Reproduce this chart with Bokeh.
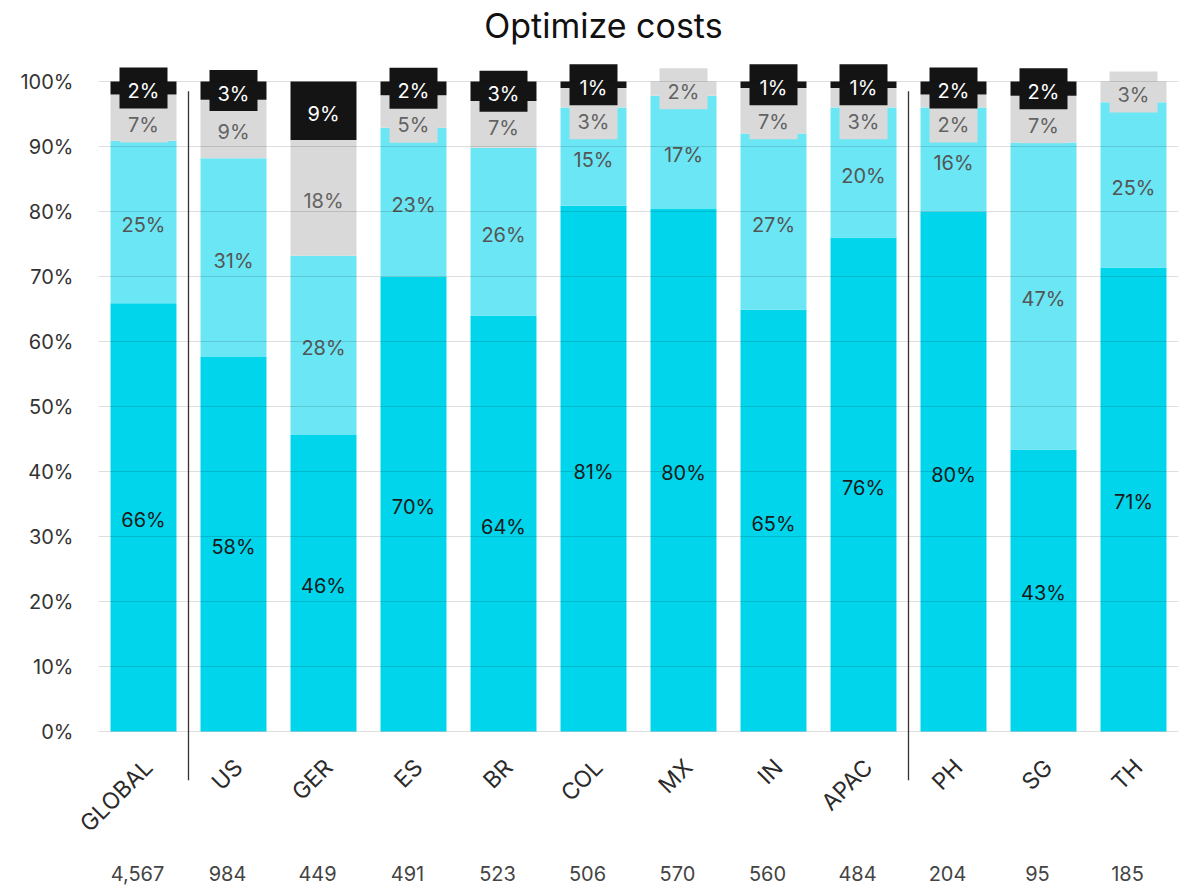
from math import pi
from bokeh.plotting import figure
from bokeh.models import ColumnDataSource, Range1d, FixedTicker, PrintfTickFormatter
from bokeh.core.properties import value
from bokeh.embed import file_html
from bokeh.resources import INLINE

# ---------------- data ----------------
categories = ["GLOBAL", "US", "GER", "ES", "BR", "COL", "MX", "IN", "APAC", "PH", "SG", "TH"]
counts = ["4,567", "984", "449", "491", "523", "506", "570", "560", "484", "204", "95", "185"]
very_likely = [65.9, 57.6, 45.6, 70.0, 64.0, 80.9, 80.4, 64.9, 76.0, 80.0, 43.4, 71.4]
somewhat_likely = [25.0, 30.6, 27.6, 22.9, 25.8, 15.1, 17.4, 27.1, 20.0, 16.0, 47.2, 25.4]
not_sure = [7.1, 9.0, 17.8, 5.0, 7.2, 3.0, 2.2, 7.0, 3.0, 2.0, 7.2, 3.2]
unlikely = [2.0, 2.8, 9.0, 2.1, 3.0, 1.0, 0.0, 1.0, 1.0, 2.0, 2.2, 0.0]
separators_after = ["GLOBAL", "APAC"]
y_ticks = [0, 10, 20, 30, 40, 50, 60, 70, 80, 90, 100]
title_text = "Optimize costs"

series = [very_likely, somewhat_likely, not_sure, unlikely]
keys = ["s1", "s2", "s3", "s4"]
colors = ["#00d5ec", "#6ae6f4", "#d9d9d9", "#141414"]
text_colors = ["#1a1a1a", "#555555", "#636363", "#ffffff"]
boxed = [False, False, True, True]
FONT = "Inter"

# category slot positions on a linear x scale (one unit per category)
n_cat = len(categories)
xpos = [i + 0.5 for i in range(n_cat)]

src = ColumnDataSource(dict(cat=categories, x=xpos, **{k: v for k, v in zip(keys, series)}))

W, H = 1186, 885
LEFT = 74             # canvas px left of the frame (y tick labels)
PX_PER_CAT = 90
PAD_L, PAD_R = 24, 8  # px of frame beyond the first / last category slot
PX_PER_UNIT = 6.5
ZERO_Y = 731          # screen y of 0%
BOX_W, BOX_H = 48, 41
TEXT_DROP = 3 / PX_PER_UNIT     # text sits slightly below its box centre
STACK_GAP = 34 / PX_PER_UNIT    # min distance between grey and black label boxes

p = figure(
    x_range=Range1d(-PAD_L / PX_PER_CAT, n_cat + PAD_R / PX_PER_CAT),
    y_range=Range1d(-(H - ZERO_Y) / PX_PER_UNIT, ZERO_Y / PX_PER_UNIT),
    width=W, height=H,
    output_backend="svg", toolbar_location=None,
    min_border_left=LEFT, min_border_right=0, min_border_top=0, min_border_bottom=0,
)
p.outline_line_color = None
p.background_fill_color = "white"
p.border_fill_color = "white"

p.vbar_stack(keys, x="x", width=0.733, color=colors, line_color=None, source=src)

# segment label positions: centre of each segment, grey pushed below the black label
centers = []
bottoms = [0.0] * n_cat
for vals in series:
    row = []
    for ci, v in enumerate(vals):
        row.append(bottoms[ci] + v / 2)
        bottoms[ci] += v
    centers.append(row)
for ci in range(n_cat):
    if series[3][ci] > 0:
        centers[2][ci] = min(centers[2][ci], centers[3][ci] - STACK_GAP)

for si, vals in enumerate(series):
    xs, ys, ty, txt = [], [], [], []
    for ci, v in enumerate(vals):
        if v > 0:
            xs.append(xpos[ci])
            ys.append(centers[si][ci])
            ty.append(centers[si][ci] - TEXT_DROP)
            txt.append(f"{round(v)}%")
    lsrc = ColumnDataSource(dict(x=xs, y=ys, ty=ty, t=txt))
    if boxed[si]:
        p.rect(x="x", y="y", width=BOX_W, height=BOX_H, width_units="screen", height_units="screen",
               fill_color=colors[si], line_color=None, source=lsrc)
    p.text(x="x", y="ty", text="t", source=lsrc, text_align="center", text_baseline="middle",
           text_font=value(FONT), text_font_size="20px", text_color=text_colors[si])

# horizontal grid lines spanning the category slots (drawn over the bars)
p.segment(x0=[0] * len(y_ticks), x1=[n_cat] * len(y_ticks), y0=y_ticks, y1=y_ticks,
          line_color="black", line_alpha=0.13, line_width=1)

# separators
sep_x = [categories.index(c) + 1.0 for c in separators_after]
p.segment(x0=sep_x, y0=[-7.5] * len(sep_x), x1=sep_x, y1=[98.5] * len(sep_x),
          line_color="#333333", line_width=1.3)

# category labels (rotated) and respondent counts
csrc = ColumnDataSource(dict(cat=categories, x=xpos, y=[-4.9] * n_cat, n=counts,
                             ny=[-21.85] * n_cat))
p.text(x="x", y="y", text="cat", source=csrc, angle=pi / 4, x_offset=5,
       text_align="right", text_baseline="middle", text_font=value(FONT),
       text_font_size="23px", text_color="#2a2a2a")
p.text(x="x", y="ny", text="n", source=csrc, x_offset=-6, text_align="center",
       text_baseline="middle", text_font=value(FONT), text_font_size="20px",
       text_color="#444444")

# title
p.text(x=[5.61], y=[108.6], text=[title_text], text_align="center", text_baseline="middle",
       text_font=value(FONT), text_font_size="34px", text_color="#111111")

p.xaxis.visible = False
p.xgrid.grid_line_color = None
p.ygrid.grid_line_color = None
p.yaxis.ticker = FixedTicker(ticks=y_ticks)
p.yaxis.formatter = PrintfTickFormatter(format="%d%%")
p.yaxis.axis_line_color = None
p.yaxis.major_tick_line_color = None
p.yaxis.minor_tick_line_color = None
p.yaxis.major_tick_out = 0
p.yaxis.major_tick_in = 0
p.yaxis.major_label_standoff = 1
p.yaxis.major_label_text_font = FONT
p.yaxis.major_label_text_font_size = "20px"
p.yaxis.major_label_text_color = "#333333"

open("out.html", "w").write(file_html(p, INLINE))
